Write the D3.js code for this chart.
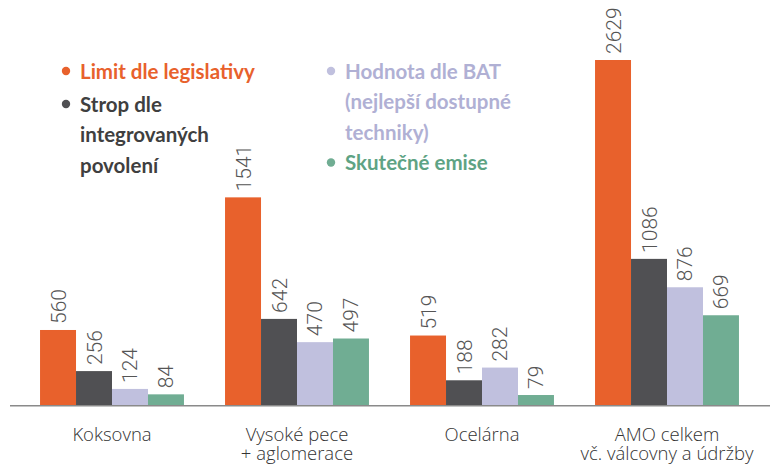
<!DOCTYPE html>
<html>
<head>
<meta charset="utf-8">
<script src="https://cdn.jsdelivr.net/npm/d3@7"></script>
<style>
  body { margin: 0; background: #fff; }
  svg { display: block; }
</style>
</head>
<body>
<div id="viz"></div>
<script>
const categories = [["Koksovna"], ["Vysoké pece", "+ aglomerace"], ["Ocelárna"], ["AMO celkem", "vč. válcovny a údržby"]];
const seriesNames = ["Limit dle legislativy", "Strop dle integrovaných povolení", "Hodnota dle BAT (nejlepší dostupné techniky)", "Skutečné emise"];
const limitValues = [560, 1541, 519, 2629];
const stropValues = [256, 642, 188, 1086];
const batValues = [124, 470, 282, 876];
const emiseValues = [84, 497, 79, 669];

const colors = ["#e8612c", "#505053", "#c0c0de", "#70ad93"];
const legendColors = ["#e8612c", "#3f3f40", "#b0b0d4", "#5ea384"];

const width = 780, height = 464;
const baseline = 405.7;

const svg = d3.select("#viz")
  .append("svg")
    .attr("width", width)
    .attr("height", height);

const x0 = d3.scaleBand()
  .domain(d3.range(categories.length))
  .range([19.5, 759.5])
  .paddingInner(0.222)
  .paddingOuter(0.111);

const x1 = d3.scaleBand()
  .domain(d3.range(seriesNames.length))
  .range([0, x0.bandwidth()]);

// the tallest bar is cut by the top of the plot area
const y = d3.scaleLinear()
  .domain([0, 2557])
  .range([baseline, 60])
  .clamp(true);

const allSeries = [limitValues, stropValues, batValues, emiseValues];
const rows = [];
allSeries.forEach((vals, s) => {
  vals.forEach((v, c) => rows.push({ s: s, c: c, v: v }));
});

svg.append("g")
  .selectAll("rect")
  .data(rows)
  .enter()
  .append("rect")
    .attr("x", d => x0(d.c) + x1(d.s))
    .attr("y", d => y(d.v))
    .attr("width", x1.bandwidth())
    .attr("height", d => baseline - y(d.v))
    .style("fill", d => colors[d.s]);

// value labels, rotated
svg.append("g")
  .selectAll("text")
  .data(rows)
  .enter()
  .append("text")
    .attr("transform", d => {
      const cx = x0(d.c) + x1(d.s) + x1.bandwidth() / 2 + 7.5;
      return "translate(" + cx + "," + (y(d.v) - 6) + ") rotate(-90)";
    })
    .style("font-family", "Roboto, sans-serif")
    .style("font-weight", 300)
    .style("font-size", "21px")
    .style("fill", "#555")
    .text(d => d.v);

// baseline
svg.append("line")
  .attr("x1", 10).attr("x2", 770)
  .attr("y1", baseline).attr("y2", baseline)
  .style("stroke", "#8a8a8a")
  .style("stroke-width", 1.5);

// category labels
const cat = svg.append("g")
  .selectAll("text")
  .data(categories)
  .enter()
  .append("text")
    .attr("text-anchor", "middle")
    .style("font-family", "'Open Sans', sans-serif")
    .style("font-weight", 300)
    .style("font-size", "18.5px")
    .style("fill", "#333");
cat.selectAll("tspan")
  .data((d, i) => d.map(t => ({ t: t, i: i })))
  .enter()
  .append("tspan")
    .attr("x", d => x0(d.i) + x0.bandwidth() / 2)
    .attr("y", (d, j) => 441 + j * 19)
    .text(d => d.t);

// legend
const legendItems = [
  { s: 0, x: 80, y: 78.5, lines: ["Limit dle legislativy"] },
  { s: 1, x: 80, y: 111.5, lines: ["Strop dle", "integrovaných", "povolení"] },
  { s: 2, x: 345, y: 78.5, lines: ["Hodnota dle BAT", "(nejlepší dostupné", "techniky)"] },
  { s: 3, x: 345, y: 170, lines: ["Skutečné emise"] }
];

const leg = svg.append("g")
  .selectAll("g")
  .data(legendItems)
  .enter()
  .append("g");

leg.append("circle")
  .attr("cx", d => d.x - 14)
  .attr("cy", d => d.y - 7.5)
  .attr("r", 4.2)
  .style("fill", d => colors[d.s]);

leg.append("text")
  .style("font-family", "Lato, sans-serif")
  .style("font-weight", 700)
  .style("font-size", "20.5px")
  .style("fill", d => legendColors[d.s])
  .selectAll("tspan")
  .data(d => d.lines.map(t => ({ t: t, x: d.x, y: d.y })))
  .enter()
  .append("tspan")
    .attr("x", d => d.x)
    .attr("y", (d, j) => d.y + j * 30.5)
    .text(d => d.t);
</script>
</body>
</html>
